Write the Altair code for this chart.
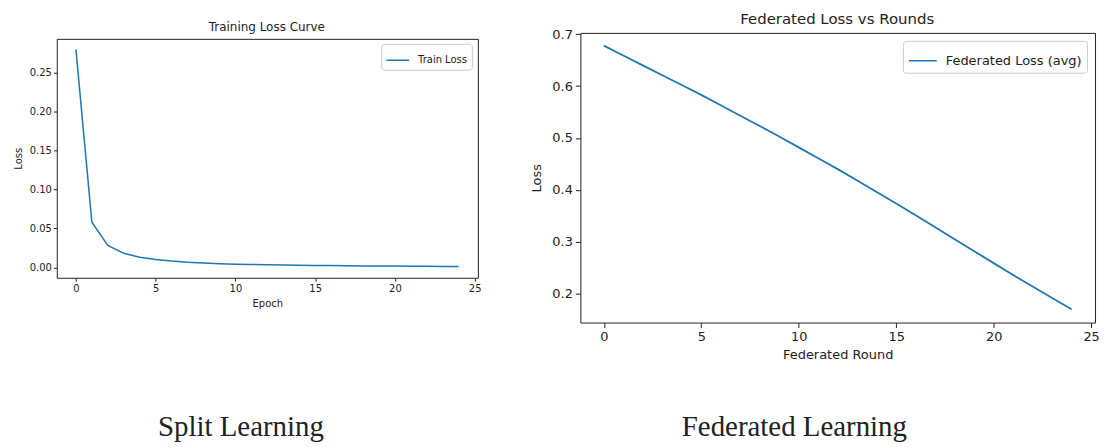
import altair as alt
import pandas as pd

# ---- data ----
epochs = list(range(25))
train_loss = [0.280, 0.058, 0.028, 0.018, 0.013, 0.010, 0.0080, 0.0065, 0.0055, 0.0047,
              0.0041, 0.0036, 0.0032, 0.0029, 0.0026, 0.0024, 0.0022, 0.0020, 0.0018,
              0.0017, 0.0016, 0.0014, 0.0013, 0.0012, 0.0011]
rounds = list(range(25))
fed_loss = [0.678, 0.659, 0.640, 0.621, 0.602, 0.583, 0.563, 0.543, 0.523, 0.503,
            0.482, 0.461, 0.440, 0.418, 0.396, 0.374, 0.351, 0.328, 0.305, 0.282,
            0.259, 0.236, 0.214, 0.192, 0.170]
left_yticks = [0.0, 0.05, 0.10, 0.15, 0.20, 0.25]
right_yticks = [0.2, 0.3, 0.4, 0.5, 0.6, 0.7]
xticks = [0, 5, 10, 15, 20, 25]
titles = ["Training Loss Curve", "Federated Loss vs Rounds"]
captions = ["Split Learning", "Federated Learning"]

BLUE = "#1f77b4"
FONT = "DejaVu Sans"
INK = "#222222"

df_left = pd.DataFrame({"Epoch": epochs, "Loss": train_loss, "series": "Train Loss"})
df_right = pd.DataFrame({"Round": rounds, "Loss": fed_loss, "series": "Federated Loss (avg)"})


def axis(values, title, fs, tick, pad, tpad, fmt=None, domain=False):
    kw = dict(values=values, title=title, grid=False, domain=domain,
              domainColor=INK, domainWidth=1,
              tickColor=INK, tickSize=tick, tickWidth=1, labelPadding=pad,
              labelFont=FONT, labelFontSize=fs, labelColor=INK,
              titleFont=FONT, titleFontSize=fs, titleFontWeight="normal",
              titleColor=INK, titlePadding=tpad, labelFlush=False)
    if fmt:
        kw["format"] = fmt
    return alt.Axis(**kw)


def frame_axis(orient):
    return alt.Axis(orient=orient, title=None, grid=False, ticks=False, labels=False,
                    domain=True, domainColor=INK, domainWidth=1,
                    offset=-6 if orient == "top" else 0)


def text_layer(txt, x, y, font, size, baseline="middle"):
    return alt.Chart(pd.DataFrame({"t": [txt]})).mark_text(
        font=font, fontSize=size, align="center", baseline=baseline, color=INK
    ).encode(text="t:N", x=alt.value(x), y=alt.value(y))


# ---- left panel (frame drawn 6px below the shared view top) ----
lx = alt.Scale(domain=[-1.2, 25.2], nice=False, zero=False)
ly = alt.Scale(domain=[-0.0134, 0.2935], nice=False, zero=False, range=[246, 6])
left_line = alt.Chart(df_left).mark_line(strokeWidth=1.5).encode(
    x=alt.X("Epoch:Q", scale=lx, axis=axis(xticks, "Epoch", 10, 3.5, 2, 5, domain=True)),
    y=alt.Y("Loss:Q", scale=ly, axis=axis(left_yticks, "Loss", 10, 3.5, 2, 6, ".2f", domain=True)),
    color=alt.Color("series:N", scale=alt.Scale(range=[BLUE]),
                    legend=alt.Legend(orient="none", legendX=326, legendY=11, title=None,
                                      padding=4, strokeColor="#cccccc", fillColor="white",
                                      cornerRadius=3, symbolType="stroke", symbolSize=23 * 23,
                                      symbolStrokeWidth=1.5, labelFont=FONT, labelFontSize=10,
                                      labelColor=INK, labelOffset=8)),
)
left_frame = alt.Chart(df_left).mark_point(opacity=0).encode(
    x=alt.X("Epoch:Q", scale=lx, axis=frame_axis("top")),
    y=alt.Y("Loss:Q", scale=ly, axis=frame_axis("right")),
)
left = alt.layer(
    left_line,
    left_frame,
    text_layer(titles[0], 211, -6, FONT, 12),
    text_layer(captions[0], 185, 396, "Liberation Serif", 29),
).resolve_axis(x="independent", y="independent").properties(
    width=423, height=246, view=alt.ViewConfig(stroke="transparent")
)

# ---- right panel ----
right_line = alt.Chart(df_right).mark_line(strokeWidth=1.8).encode(
    x=alt.X("Round:Q", scale=alt.Scale(domain=[-1.2, 25.2], nice=False, zero=False),
            axis=axis(xticks, "Federated Round", 13, 5, 3, 5)),
    y=alt.Y("Loss:Q", scale=alt.Scale(domain=[0.1445, 0.7025], nice=False, zero=False),
            axis=axis(right_yticks, "Loss", 13, 5, 3, 8, ".1f")),
    color=alt.Color("series:N", scale=alt.Scale(range=[BLUE]),
                    legend=alt.Legend(orient="top-right", offset=8, title=None, padding=5,
                                      strokeColor="#cccccc", fillColor="white",
                                      cornerRadius=3, symbolType="stroke", symbolSize=28 * 28,
                                      symbolStrokeWidth=1.5, labelFont=FONT, labelFontSize=13,
                                      labelColor=INK, labelOffset=8)),
)
right = alt.layer(
    right_line,
    text_layer(titles[1], 258, -14, FONT, 15),
    text_layer(captions[1], 215, 396, "Liberation Serif", 29),
).properties(width=517, height=291)

chart = alt.hconcat(left, right, spacing=48).resolve_scale(
    color="independent"
).resolve_legend(color="independent").properties(
    padding={"left": 4, "top": 2, "right": 0, "bottom": 0}
).configure(font=FONT).configure_view(stroke=INK, strokeWidth=1)

chart.save("out.html", embed_options={"renderer": "svg", "actions": False})
